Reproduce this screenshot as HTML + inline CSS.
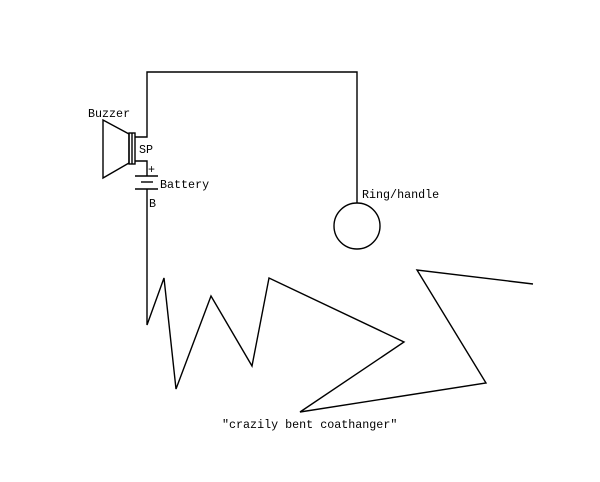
<!DOCTYPE html>
<html><head><style>
html,body{margin:0;padding:0;background:#fff;}
svg{display:block}
text{font-family:"Liberation Mono",monospace;font-size:11.7px;fill:#000}
</style></head><body>
<svg width="600" height="482" viewBox="0 0 600 482" xmlns="http://www.w3.org/2000/svg">
<g fill="none" stroke="#000" stroke-width="1.4">
<polyline points="135,137 147,137 147,72 357,72 357,203"/>
<circle cx="357" cy="226" r="23"/>
<polygon points="103,120 129,134 129,163 103,178"/>
<rect x="129" y="133" width="6" height="31"/>
<line x1="132" y1="133" x2="132" y2="164"/>
<polyline points="135,161 147,161 147,176"/>
<line x1="135" y1="176" x2="158" y2="176"/>
<line x1="141" y1="182" x2="153" y2="182"/>
<line x1="135" y1="189" x2="158" y2="189"/>
<polyline points="147,189 147,325 164,278 176,389 211,296 252,366 269,278 404,342 300,412 486,383 417,270 533,284"/>
</g>
<text x="88" y="117">Buzzer</text>
<text x="139" y="153">SP</text>
<text x="148" y="173">+</text>
<text x="160" y="188">Battery</text>
<text x="149" y="207">B</text>
<text x="362" y="198">Ring/handle</text>
<text x="222" y="428">"crazily bent coathanger"</text>
</svg>
</body></html>
